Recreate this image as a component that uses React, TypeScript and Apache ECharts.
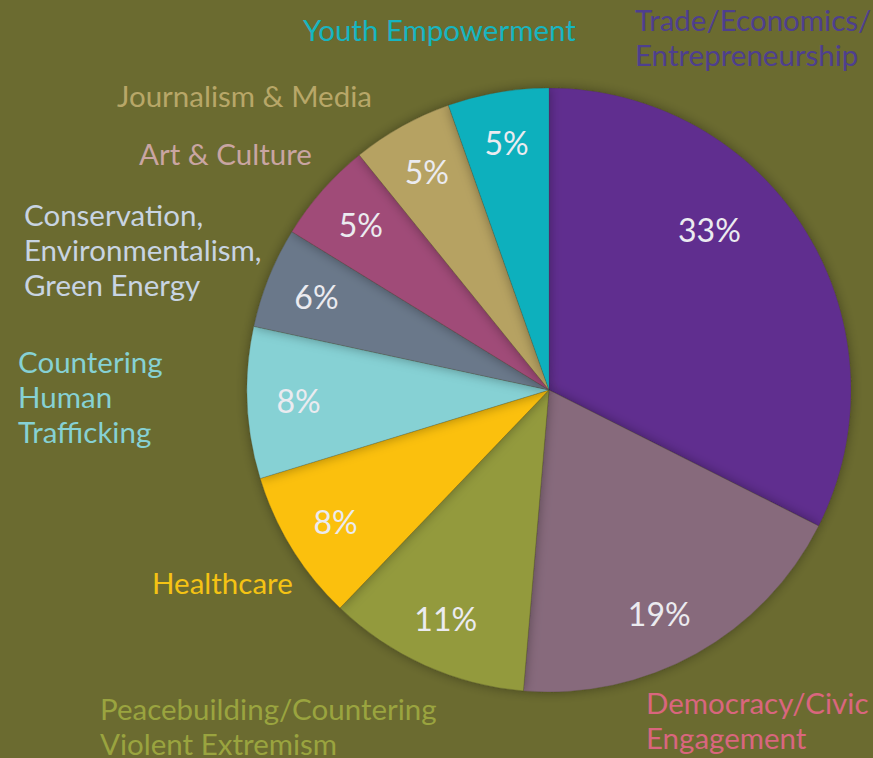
import React, { useEffect, useRef } from "react";
import * as echarts from "echarts";

const categories = [
  "Trade/Economics/\nEntrepreneurship",
  "Democracy/Civic\nEngagement",
  "Peacebuilding/Countering\nViolent Extremism",
  "Healthcare",
  "Countering\nHuman\nTrafficking",
  "Conservation,\nEnvironmentalism,\nGreen Energy",
  "Art & Culture",
  "Journalism & Media",
  "Youth Empowerment",
];
const values = [32.4, 18.9, 10.8, 8.1, 8.1, 5.4, 5.4, 5.4, 5.4];
const percentLabels = ["33%", "19%", "11%", "8%", "8%", "6%", "5%", "5%", "5%"];

const sliceColors = ["#612d8f", "#876a7b", "#939a3c", "#fbc010", "#86d1d4", "#6a788a", "#a04b78", "#b6a262", "#10b0bd"];
const nameColors = ["#4e3f8e", "#d9667e", "#9aa43f", "#f5c314", "#86d1d4", "#c8d4e2", "#c9a5a2", "#b8a768", "#17b5c1"];
// left edge / vertical centre of each outer name block
const nameSpots: [number, number][] = [
  [635, 37], [646, 720], [100, 726], [152, 582], [18, 396], [24, 249], [139, 153], [117, 95], [303, 29],
];
// nudges for the percentage labels that do not sit on the mid-angle
const pctNudges: Record<number, [number, number]> = { 0: [-53, -29], 1: [-12, 5] };

const FONT = "Lato, 'Noto Sans', sans-serif";

export default function App() {
  const ref = useRef<HTMLDivElement>(null);
  useEffect(() => {
    document.body.style.margin = "0";
    const chart = echarts.init(ref.current!, undefined, { renderer: "svg" });
    const center = [549, 390];
    const R = 302;
    chart.setOption({
      animation: false,
      backgroundColor: "#6b6b30",
      series: [
        {
          type: "pie",
          center,
          radius: [0, R],
          startAngle: 90,
          clockwise: true,
          silent: true,
          avoidLabelOverlap: false,
          itemStyle: {
            shadowBlur: 12,
            shadowColor: "rgba(0,0,0,0.35)",
            borderColor: "rgba(60,60,40,0.35)",
            borderWidth: 0.6,
          },
          label: {
            show: true,
            position: "outside",
            fontFamily: FONT,
            fontSize: 29.5,
            lineHeight: 35,
            formatter: (p: any) => p.name,
          },
          labelLine: { show: false },
          labelLayout: (p: any) => ({
            x: nameSpots[p.dataIndex][0],
            y: nameSpots[p.dataIndex][1],
            align: "left",
            verticalAlign: "middle",
          }),
          data: categories.map((c, i) => ({
            name: c,
            value: values[i],
            itemStyle: { color: sliceColors[i] },
            label: { color: nameColors[i] },
          })),
        },
        {
          type: "pie",
          center,
          radius: [R * 0.64, R],
          startAngle: 90,
          clockwise: true,
          silent: true,
          avoidLabelOverlap: false,
          itemStyle: { color: "rgba(0,0,0,0)" },
          label: {
            show: true,
            position: "inside",
            fontFamily: FONT,
            fontSize: 32,
            color: "#ebebf0",
            formatter: (p: any) => percentLabels[p.dataIndex],
          },
          labelLine: { show: false },
          data: categories.map((c, i) => ({
            name: c,
            value: values[i],
            label: pctNudges[i] ? { offset: pctNudges[i] } : undefined,
          })),
        },
      ],
    });
    return () => chart.dispose();
  }, []);
  return <div ref={ref} style={{ width: 873, height: 758 }} />;
}
